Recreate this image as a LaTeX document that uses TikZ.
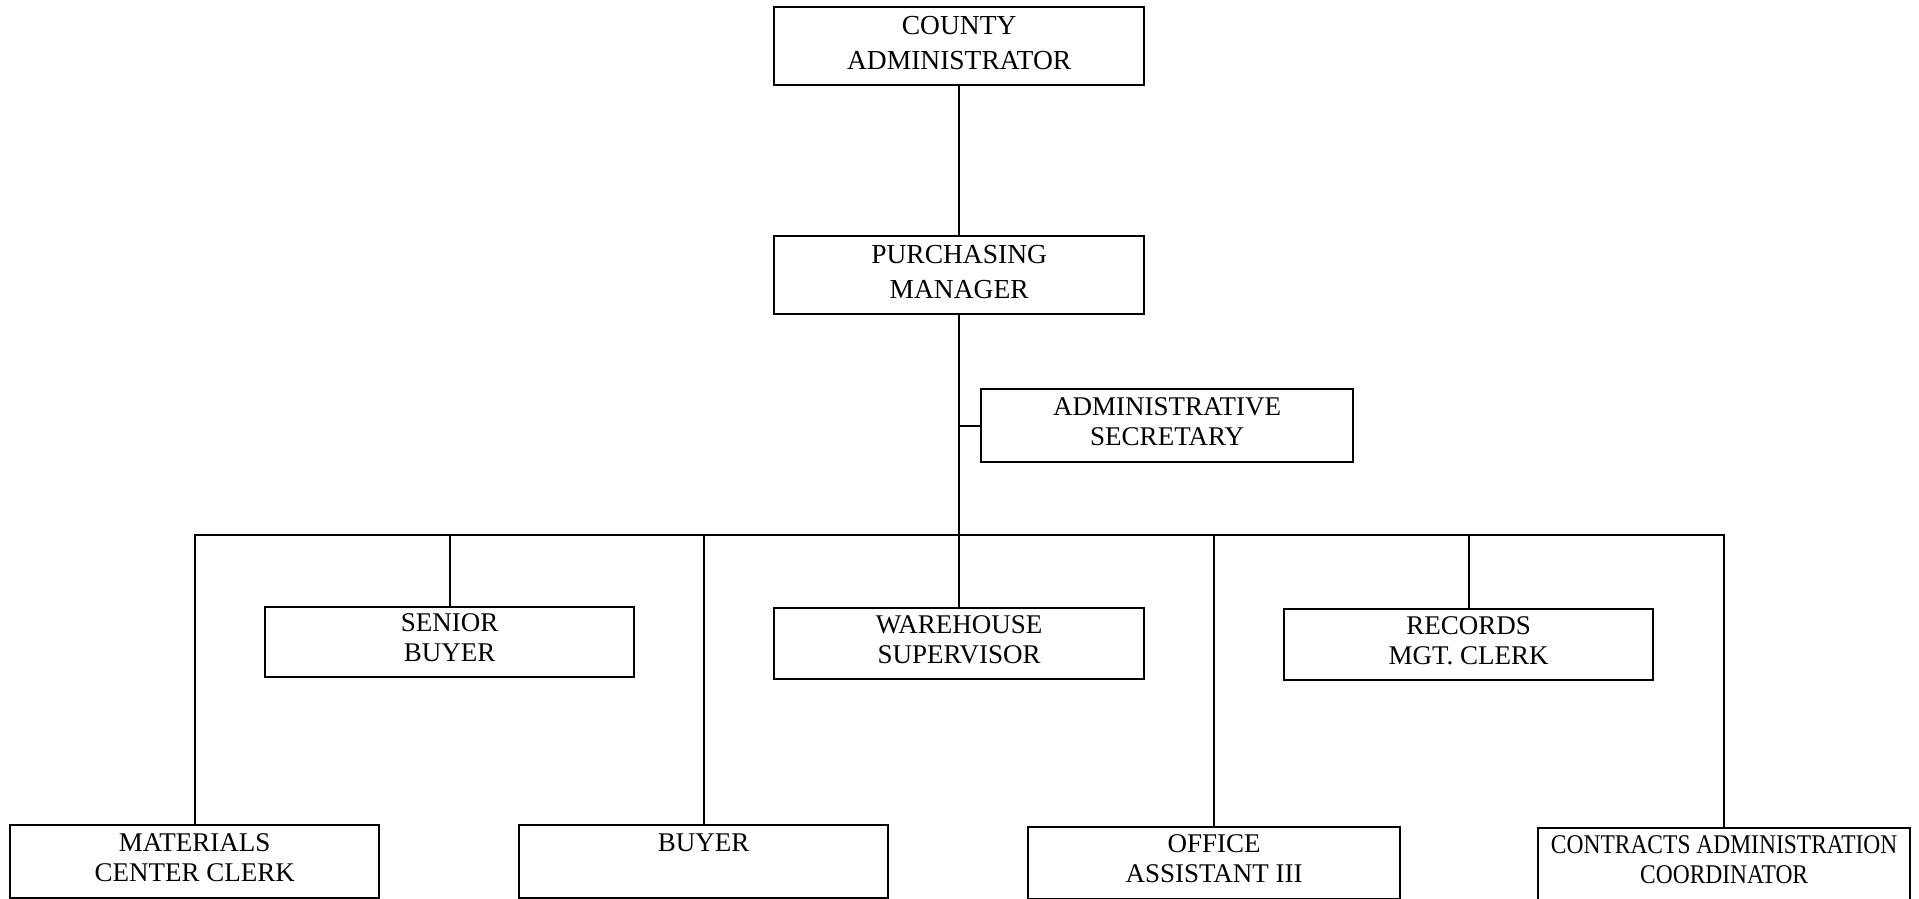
\documentclass[tikz,border=0pt]{standalone}
\usepackage{fontspec}
\setmainfont{Liberation Serif}
\newfontfamily\condensedfont{Liberation Serif}[FakeStretch=0.87]
\begin{document}
\begin{tikzpicture}[x=1pt,y=-1pt,
  post/.style={draw, line width=2.3pt, anchor=north west, align=center,
    inner sep=0pt, font=\fontsize{27}{30}\selectfont, text depth=9pt},
  toppost/.style={post, font=\fontsize{27.5}{35}\selectfont, text depth=6pt},
  link/.style={line width=2.3pt}]
\useasboundingbox (0,0) rectangle (1919,899);

% upper chain
\node[toppost, minimum width=370pt, minimum height=78pt] (ca) at (773,6) {COUNTY\\ADMINISTRATOR};
\node[toppost, minimum width=370pt, minimum height=78pt] (pm) at (773,235) {PURCHASING\\MANAGER};
\node[post, minimum width=372pt, minimum height=73pt] (as) at (980,388) {ADMINISTRATIVE\\SECRETARY};

% middle row
\node[post, minimum width=369pt, minimum height=70pt] (sb) at (264,606) {SENIOR\\BUYER};
\node[post, minimum width=370pt, minimum height=71pt] (ws) at (773,607) {WAREHOUSE\\SUPERVISOR};
\node[post, minimum width=369pt, minimum height=71pt] (rc) at (1283,608) {RECORDS\\MGT. CLERK};

% bottom row
\node[post, minimum width=369pt, minimum height=73pt] (mc) at (9,824) {MATERIALS\\CENTER CLERK};
\node[post, minimum width=369pt, minimum height=73pt] (by) at (518,824) {BUYER\\\strut};
\node[post, minimum width=372pt, minimum height=72pt] (oa) at (1027,826) {OFFICE\\ASSISTANT III};
\node[post, minimum width=372pt, minimum height=72pt, font=\fontsize{27}{30}\condensedfont] (co) at (1537,827) {CONTRACTS ADMINISTRATION\\COORDINATOR};

\coordinate (bus) at (958,535);

% reporting lines
\draw[link] (ca.south) -- (pm.north);
\draw[link] (pm.south) -- (pm.south |- bus);
\draw[link] (pm.south |- as.west) -- (as.west);
\foreach \n in {sb,ws,rc,mc,by,oa,co}
  \draw[link] (\n.north) |- (bus);
\end{tikzpicture}
\end{document}
